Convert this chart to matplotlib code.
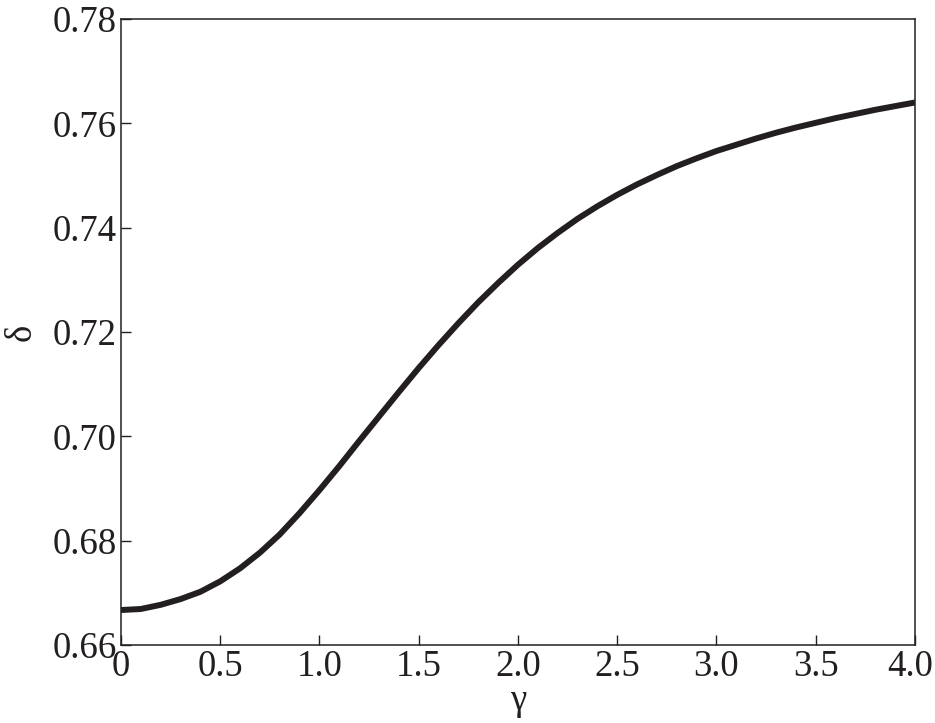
import matplotlib
matplotlib.use("Agg")
import matplotlib.pyplot as plt
import matplotlib.transforms as mtransforms

gamma = [0.0, 0.1, 0.2, 0.3, 0.4, 0.5, 0.6, 0.7, 0.8, 0.9, 1.0,
         1.1, 1.2, 1.3, 1.4, 1.5, 1.6, 1.7, 1.8, 1.9, 2.0,
         2.1, 2.2, 2.3, 2.4, 2.5, 2.6, 2.7, 2.8, 2.9, 3.0,
         3.1, 3.2, 3.3, 3.4, 3.5, 3.6, 3.7, 3.8, 3.9, 4.0]
delta = [0.6667, 0.6669, 0.6677, 0.6688, 0.6702, 0.6722, 0.6747, 0.6777,
         0.6812, 0.6853, 0.6897, 0.6943, 0.6991, 0.7038, 0.7085, 0.7131,
         0.7175, 0.7217, 0.7257, 0.7294, 0.7329, 0.7361, 0.7390, 0.7417,
         0.7441, 0.7463, 0.7483, 0.7501, 0.7518, 0.7533, 0.7547, 0.7559,
         0.7571, 0.7582, 0.7592, 0.7601, 0.7610, 0.7618, 0.7626, 0.7633,
         0.7640]
xticks = [0, 0.5, 1.0, 1.5, 2.0, 2.5, 3.0, 3.5, 4.0]
xticklabels = ["0", "0.5", "1.0", "1.5", "2.0", "2.5", "3.0", "3.5", "4.0"]
yticks = [0.66, 0.68, 0.70, 0.72, 0.74, 0.76, 0.78]
yticklabels = ["0.66", "0.68", "0.70", "0.72", "0.74", "0.76", "0.78"]

plt.rcParams['font.family'] = ['Liberation Serif', 'DejaVu Serif']
fig = plt.figure(figsize=(9.35, 7.23), dpi=100)
ax = fig.add_axes([0.1294, 0.1079, 0.8492, 0.8658])
ax.plot(gamma, delta, color='#231f20', lw=4.3, solid_capstyle='butt',
        solid_joinstyle='round')
ax.set_xlim(0, 4.0)
ax.set_ylim(0.66, 0.78)
ax.set_xticks(xticks)
ax.set_xticklabels(xticklabels)
ax.set_yticks(yticks)
ax.set_yticklabels(yticklabels)
ax.tick_params(direction='in', length=7, width=1.0, labelsize=26.5, pad=3,
               colors='#231f20', top=False, right=False)
for s in ax.spines.values():
    s.set_linewidth(1.1)
    s.set_color('#231f20')
ax.set_xlabel('γ', fontsize=26.5, labelpad=0, color='#231f20')
ax.set_ylabel('δ', fontsize=26.5, labelpad=10, color='#231f20')

labels = ax.get_xticklabels()
shift = mtransforms.ScaledTranslation(-5 / 100, 0, fig.dpi_scale_trans)
labels[-1].set_transform(labels[-1].get_transform() + shift)

fig.savefig('out.png', dpi=100)
